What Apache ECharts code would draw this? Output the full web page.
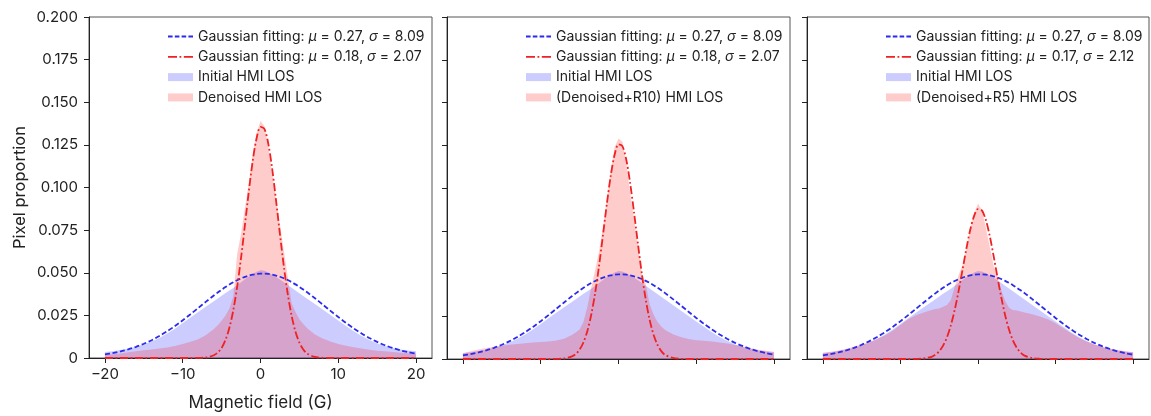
<!DOCTYPE html>
<html><head><meta charset="utf-8">
<script src="https://cdn.jsdelivr.net/npm/echarts@6/dist/echarts.min.js"></script>
<style>html,body{margin:0;padding:0;background:#fff}#c{width:1151px;height:416px}</style>
</head><body><div id="c"></div>
<script>
// Magnetic field bin centres (G)
const X = [-20,-19,-18,-17,-16,-15,-14,-13,-12,-11,-10,-9,-8,-7,-6,
  -5.5,-5,-4.5,-4,-3.5,-3,-2.5,-2,-1.5,-1,-0.5,0,0.5,1,1.5,2,2.5,3,3.5,4,4.5,5,5.5,
  6,7,8,9,10,11,12,13,14,15,16,17,18,19,20];
const xTicks = [-20,-10,0,10,20];

// Initial HMI LOS histogram (same in all panels)
const initialHist = [0.0035,0.0040,0.0047,0.0055,0.0066,0.0080,0.0097,0.0118,0.0143,0.0172,0.0205,0.0238,0.0270,0.0302,0.0333,
  0.0349,0.0365,0.0381,0.0396,0.0411,0.0428,0.0445,0.0462,0.0478,0.0493,0.0506,0.0514,0.0511,0.0501,0.0489,0.0475,0.0460,0.0444,0.0428,0.0412,0.0396,0.0380,0.0364,
  0.0348,0.0316,0.0284,0.0252,0.0220,0.0188,0.0157,0.0129,0.0105,0.0085,0.0070,0.0058,0.0050,0.0044,0.0040];
// Gaussian fit of initial (mu 0.27, sigma 8.09)
const initialFit = [0.00214,0.00290,0.00387,0.00507,0.00655,0.00834,0.01044,0.01290,0.01567,0.01877,0.02211,0.02568,0.02935,0.03306,0.03666,
  0.03839,0.04004,0.04161,0.04307,0.04441,0.04562,0.04668,0.04759,0.04833,0.04889,0.04928,0.04947,0.04948,0.04930,0.04893,0.04838,0.04765,0.04676,0.04571,0.04451,0.04318,0.04172,0.04017,
  0.03852,0.03502,0.03136,0.02766,0.02402,0.02054,0.01730,0.01436,0.01173,0.00943,0.00748,0.00584,0.00448,0.00340,0.00253];

// Panel 1: Denoised
const denoisedHist = [0.0018,0.0022,0.0027,0.0033,0.0040,0.0046,0.0050,0.0055,0.0061,0.0070,0.0082,0.0095,0.0110,0.0135,0.0170,
  0.0192,0.0218,0.0250,0.0290,0.0360,0.0610,0.0730,0.0880,0.1030,0.1190,0.1320,0.1390,0.1360,0.1240,0.1080,0.0930,0.0780,0.0630,0.0480,0.0320,0.0270,0.0228,0.0200,
  0.0175,0.0138,0.0115,0.0097,0.0082,0.0072,0.0063,0.0055,0.0048,0.0043,0.0039,0.0035,0.0031,0.0028,0.0025];
const denoisedFit = [0,0,0,0,0,0,0,0,0,0,0,0,0.0001,0.0003,0.0016,
  0.0032,0.0059,0.0106,0.0177,0.0280,0.0418,0.0588,0.0781,0.0978,0.1156,0.1289,0.1355,0.1344,0.1257,0.1110,0.0924,0.0726,0.0538,0.0376,0.0248,0.0154,0.0090,0.0050,
  0.0026,0.0006,0.0001,0,0,0,0,0,0,0,0,0,0,0,0];

// Panel 2: Denoised+R10
const r10Hist = [0.0033,0.0045,0.0055,0.0064,0.0071,0.0078,0.0083,0.0088,0.0092,0.0096,0.0099,0.0103,0.0108,0.0118,0.0140,
  0.0155,0.0172,0.0218,0.0306,0.0420,0.0520,0.0630,0.0770,0.0930,0.1100,0.1240,0.1290,0.1270,0.1140,0.0970,0.0820,0.0660,0.0500,0.0440,0.0320,0.0260,0.0218,0.0190,
  0.0170,0.0145,0.0128,0.0117,0.0110,0.0106,0.0102,0.0097,0.0090,0.0082,0.0073,0.0063,0.0054,0.0048,0.0043];
const r10Fit = [0,0,0,0,0,0,0,0,0,0,0,0,0.0001,0.0003,0.0015,
  0.0029,0.0055,0.0098,0.0164,0.0260,0.0387,0.0545,0.0724,0.0906,0.1071,0.1194,0.1255,0.1245,0.1165,0.1028,0.0856,0.0673,0.0498,0.0348,0.0230,0.0143,0.0084,0.0046,
  0.0024,0.0006,0.0001,0,0,0,0,0,0,0,0,0,0,0,0];

// Panel 3: Denoised+R5
const r5Hist = [0.0036,0.0042,0.0050,0.0060,0.0072,0.0086,0.0100,0.0117,0.0138,0.0165,0.0199,0.0232,0.0256,0.0272,0.0287,
  0.0292,0.0296,0.0305,0.0316,0.0345,0.0423,0.0490,0.0550,0.0640,0.0760,0.0850,0.0910,0.0870,0.0770,0.0660,0.0550,0.0480,0.0400,0.0340,0.0300,0.0287,0.0283,0.0278,
  0.0272,0.0262,0.0249,0.0232,0.0209,0.0180,0.0150,0.0124,0.0103,0.0086,0.0072,0.0061,0.0053,0.0046,0.0040];
const r5Fit = [0,0,0,0,0,0,0,0,0,0,0,0,0.0001,0.0003,0.0013,
  0.0025,0.0045,0.0078,0.0127,0.0197,0.0288,0.0398,0.0521,0.0645,0.0756,0.0837,0.0877,0.0869,0.0815,0.0723,0.0606,0.0481,0.0361,0.0256,0.0172,0.0109,0.0066,0.0037,
  0.0020,0.0005,0.0001,0,0,0,0,0,0,0,0,0,0,0,0];

const blueFitName = 'Gaussian fitting: μ = 0.27, σ = 8.09';
const panels = [
  {redFitName:'Gaussian fitting: μ = 0.18, σ = 2.07', redName:'Denoised HMI LOS', hist:denoisedHist, fit:denoisedFit, left:89, width:343, legendLeft:168},
  {redFitName:'Gaussian fitting: μ = 0.18, σ = 2.07 ', redName:'(Denoised+R10) HMI LOS', hist:r10Hist, fit:r10Fit, left:447, width:343, legendLeft:526},
  {redFitName:'Gaussian fitting: μ = 0.17, σ = 2.12', redName:'(Denoised+R5) HMI LOS', hist:r5Hist, fit:r5Fit, left:807, width:342, legendLeft:886}
];

const pts = arr => X.map((x,k)=>[x, arr[k]]);
const FONT = 'Inter';
const TXT = '#222';
const BLUE_FILL = 'rgba(0,0,255,0.2)';
const RED_FILL = 'rgba(255,0,0,0.2)';
const BLUE = '#2b2bee';
const RED = '#ee2222';
// legend icons: dashed and dash-dot strokes drawn as small bars
const DASH_ICON = 'path://M0,0h4.6v1.8h-4.6z M6.8,0h4.6v1.8h-4.6z M13.6,0h4.6v1.8h-4.6z M20.4,0h4.6v1.8h-4.6z';
const DASHDOT_ICON = 'path://M0,0h9v1.8h-9z M11.5,0h1.8v1.8h-1.8z M15.8,0h9.2v1.8h-9.2z';

const grids=[], xAxes=[], yAxes=[], series=[], legends=[];
panels.forEach((p,i)=>{
  grids.push({left:p.left, width:p.width, top:17, height:342, show:true, borderColor:'#555', borderWidth:1, backgroundColor:'transparent'});
  xAxes.push({type:'value', gridIndex:i, min:-22.05, max:22.05,
    name: i===0 ? 'Magnetic field (G)' : '', nameLocation:'middle', nameGap:36,
    nameTextStyle:{fontFamily:FONT, fontSize:17, color:TXT},
    axisLine:{show:true, onZero:false, lineStyle:{color:'#222', width:1}},
    axisTick:{show:true, customValues:xTicks, length:5, lineStyle:{color:'#222'}},
    axisLabel:{show:i===0, customValues:xTicks, margin:9, fontFamily:FONT, fontSize:15, color:TXT,
      formatter:v=> (v<0?'\u2212'+Math.abs(v):String(v))},
    splitLine:{show:false}});
  yAxes.push({type:'value', gridIndex:i, min:0, max:0.2, interval:0.025,
    name: i===0 ? 'Pixel proportion' : '', nameLocation:'middle', nameGap:60,
    nameTextStyle:{fontFamily:FONT, fontSize:16.5, color:TXT},
    axisLine:{show:true, onZero:false, lineStyle:{color:'#222', width:1}},
    axisTick:{show:true, length:5, lineStyle:{color:'#222'}},
    axisLabel:{show:i===0, margin:11, fontFamily:FONT, fontSize:15, color:TXT,
      formatter:v=> v===0?'0':v.toFixed(3)},
    splitLine:{show:false}});
  series.push({type:'line', name:'Initial HMI LOS', xAxisIndex:i, yAxisIndex:i, data:pts(initialHist),
    symbol:'none', lineStyle:{width:0, color:BLUE_FILL}, itemStyle:{color:BLUE_FILL}, areaStyle:{color:BLUE_FILL, opacity:1}, z:1, silent:true});
  series.push({type:'line', name:p.redName, xAxisIndex:i, yAxisIndex:i, data:pts(p.hist),
    symbol:'none', lineStyle:{width:0, color:RED_FILL}, itemStyle:{color:RED_FILL}, areaStyle:{color:RED_FILL, opacity:1}, z:2, silent:true});
  series.push({type:'line', name:blueFitName, xAxisIndex:i, yAxisIndex:i, data:pts(initialFit),
    symbol:'none', smooth:0.3, itemStyle:{color:BLUE}, lineStyle:{color:BLUE, width:1.8, type:[5,2.6]}, z:3, silent:true});
  series.push({type:'line', name:p.redFitName, xAxisIndex:i, yAxisIndex:i, data:pts(p.fit),
    symbol:'none', smooth:0.3, itemStyle:{color:RED}, lineStyle:{color:RED, width:1.8, type:[8,2.6,1.8,2.6]}, z:4, silent:true});
  legends.push({left:p.legendLeft, top:28.5, orient:'vertical', padding:0, itemGap:4.3, itemWidth:25, itemHeight:8,
    selectedMode:false,
    textStyle:{fontFamily:FONT, fontSize:14, color:TXT, lineHeight:16, rich:{i:{fontFamily:FONT, fontSize:14, fontStyle:'italic', color:TXT}}},
    formatter:n=> n.trim().replace('μ','{i|μ}').replace('σ','{i|σ}'),
    data:[
      {name:blueFitName, icon:DASH_ICON, itemStyle:{color:BLUE, borderWidth:0}},
      {name:p.redFitName, icon:DASHDOT_ICON, itemStyle:{color:RED, borderWidth:0}},
      {name:'Initial HMI LOS', icon:'rect', itemStyle:{color:BLUE_FILL, borderWidth:0}},
      {name:p.redName, icon:'rect', itemStyle:{color:RED_FILL, borderWidth:0}}
    ]});
});

const chart = echarts.init(document.getElementById('c'), null, {renderer:'canvas'});
chart.setOption({animation:false, backgroundColor:'#fff', grid:grids, xAxis:xAxes, yAxis:yAxes, series:series, legend:legends});
</script></body></html>
